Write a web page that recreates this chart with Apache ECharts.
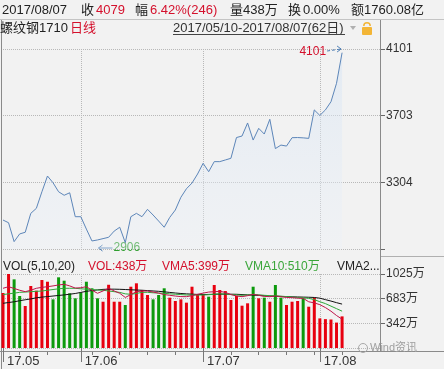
<!DOCTYPE html>
<html><head><meta charset="utf-8">
<script src="https://cdn.jsdelivr.net/npm/echarts@6/dist/echarts.min.js"></script>
<style>html,body{margin:0;padding:0;background:#f2f2f2;}#c{width:444px;height:369px;}</style>
</head><body><div id="c"></div>
<script>
// ---- data ----
const dates = [
 '2017-05-10','2017-05-11','2017-05-12','2017-05-15','2017-05-16','2017-05-17','2017-05-18','2017-05-19','2017-05-22','2017-05-23',
 '2017-05-24','2017-05-25','2017-05-26','2017-05-31','2017-06-01','2017-06-02','2017-06-05','2017-06-06','2017-06-07','2017-06-08',
 '2017-06-09','2017-06-12','2017-06-13','2017-06-14','2017-06-15','2017-06-16','2017-06-19','2017-06-20','2017-06-21','2017-06-22',
 '2017-06-23','2017-06-26','2017-06-27','2017-06-28','2017-06-29','2017-06-30','2017-07-03','2017-07-04','2017-07-05','2017-07-06',
 '2017-07-07','2017-07-10','2017-07-11','2017-07-12','2017-07-13','2017-07-14','2017-07-17','2017-07-18','2017-07-19','2017-07-20',
 '2017-07-21','2017-07-24','2017-07-25','2017-07-26','2017-07-27','2017-07-28','2017-07-31','2017-08-01','2017-08-02','2017-08-03',
 '2017-08-04','2017-08-07'];
const closePrices = [
 3079,3063,2950,2996,3006,3119,3149,3248,3342,3302,
 3248,3227,3242,3099,3099,3025,2954,2960,2968,2976,
 3013,3036,2944,3099,3119,3099,3143,3109,3073,3036,
 3095,3139,3215,3266,3300,3354,3418,3368,3428,3428,
 3438,3448,3572,3581,3659,3557,3627,3593,3681,3506,
 3527,3521,3571,3572,3570,3567,3737,3704,3737,3786,
 3896,4079];
const volumes = [
 762,1025,951,720,582,859,794,942,918,674,
 979,932,758,688,766,918,827,688,641,876,
 641,641,596,849,896,803,734,674,734,827,
 697,651,674,628,849,744,744,711,873,803,
 789,665,724,586,619,849,688,697,641,873,
 697,596,641,651,688,572,697,410,400,395,
 352,438];
const volUpDown = [
 'r','r','g','g','r','r','r','r','r','g',
 'g','g','g','g','g','g','g','g','r','r',
 'r','r','g','r','r','r','r','g','g','g',
 'r','r','r','r','r','r','r','g','r','r',
 'r','r','r','r','r','g','r','g','r','g',
 'g','r','r','r','g','r','r','r','r','r',
 'r','r'];
const vma5 = [
 827,849,825,800,780,800,827,840,849,860,
 873,882,860,830,835,849,800,758,790,827,
 790,758,700,740,780,790,789,775,760,740,
 730,720,712,711,725,744,760,775,780,785,
 770,740,720,711,725,744,730,715,711,720,
 710,700,697,690,688,640,625,600,560,510,
 450,399];
const vma10 = [
 740,750,760,771,775,780,785,789,800,810,
 820,827,827,827,820,815,810,803,800,790,
 780,770,750,744,755,771,771,765,760,758,
 750,745,740,734,734,734,734,738,745,750,
 748,740,735,730,735,740,738,730,725,722,
 718,712,705,700,695,688,670,641,615,580,
 545,510];
const vma20 = [
 619,630,640,655,668,680,695,705,712,720,
 728,735,745,755,770,785,795,805,812,815,
 815,813,810,806,803,800,795,790,785,778,
 770,762,755,750,746,742,740,742,744,746,
 746,745,744,740,736,732,728,724,720,717,
 714,711,709,707,705,703,700,690,670,650,
 628,608];
const priceTicks = [2906, 3304, 3703, 4101];
const volTickMax = 1025;
const priceHigh = 4101, priceHighIdx = 61;
const priceLow = 2906, priceLowIdx = 17;
const padCount = 7;

// ---- build ----
const cats = dates.concat(new Array(padCount).fill(''));
function isMonthStart(i) {
  if (i >= dates.length) return false;
  if (i === 0) return true;
  return dates[i].slice(5, 7) !== dates[i - 1].slice(5, 7);
}
function isMonday(i) {
  if (i >= dates.length) return false;
  return new Date(dates[i] + 'T00:00:00Z').getUTCDay() === 1;
}
const dotted = {type: 'dotted', color: '#b8b8b8', width: 1};
const FONT = '"Liberation Sans", Arial, "Noto Sans CJK SC", sans-serif';
const RED = '#d4102c', GREEN = '#2f9e2f';

const chart = echarts.init(document.getElementById('c'));
const option = {
  backgroundColor: '#f2f2f2',
  animation: false,
  textStyle: {fontFamily: FONT},
  grid: [
    {left: 3, top: 49, width: 378, height: 200},
    {left: 3, top: 274, width: 378, height: 74}
  ],
  xAxis: [
    {type: 'category', gridIndex: 0, data: cats, boundaryGap: false, position: 'bottom',
     axisLine: {show: false}, axisTick: {show: false}, axisLabel: {show: false},
     splitLine: {show: true, interval: (i) => isMonthStart(i) && i > 0, lineStyle: dotted}},
    {type: 'category', gridIndex: 1, data: cats, boundaryGap: false, position: 'bottom', offset: 4,
     axisLine: {show: false},
     axisTick: {show: true, interval: (i) => isMonthStart(i), length: 14, lineStyle: {color: '#777'}},
     axisLabel: {show: true, interval: (i) => isMonthStart(i), align: 'left', padding: [0, 0, 0, 4], margin: 3,
       fontSize: 13, color: '#333', fontFamily: FONT,
       formatter: (v) => v ? v.slice(2, 4) + '.' + v.slice(5, 7) : ''},
     splitLine: {show: true, interval: (i) => isMonthStart(i) && i > 0, lineStyle: dotted}},
    {type: 'category', gridIndex: 1, data: cats, boundaryGap: false, position: 'bottom', offset: 4,
     axisLine: {show: false},
     axisTick: {show: true, interval: (i) => isMonday(i), length: 3, lineStyle: {color: '#777'}},
     axisLabel: {show: false}, splitLine: {show: false}}
  ],
  yAxis: [
    {type: 'value', gridIndex: 0, position: 'right', min: priceTicks[0], max: priceTicks[3],
     axisLine: {show: false},
     axisTick: {show: true, length: 4, customValues: priceTicks, lineStyle: {color: '#666'}},
     axisLabel: {customValues: priceTicks.slice(1), fontSize: 12, color: '#333', margin: 5, fontFamily: FONT,
       formatter: (v) => String(Math.round(v))},
     splitLine: {show: true, lineStyle: dotted}},
    {type: 'value', gridIndex: 1, position: 'right', min: 0, max: volTickMax, interval: volTickMax / 3,
     axisLine: {show: false},
     axisTick: {show: true, length: 4, lineStyle: {color: '#666'}},
     axisLabel: {showMinLabel: false, fontSize: 12, color: '#333', margin: 5, fontFamily: FONT,
       formatter: (v) => Math.round(v) + '万'},
     splitLine: {show: true, lineStyle: dotted}}
  ],
  series: [
    {type: 'line', xAxisIndex: 0, yAxisIndex: 0, data: closePrices, symbol: 'none',
     lineStyle: {color: '#5d86b9', width: 1},
     areaStyle: {origin: 'start', color: new echarts.graphic.LinearGradient(0, 0, 0, 1, [
       {offset: 0, color: 'rgba(214,228,244,0.75)'}, {offset: 1, color: 'rgba(236,241,248,0.5)'}])}},
    {type: 'bar', xAxisIndex: 1, yAxisIndex: 1, barWidth: 3,
     data: volumes.map((v, i) => ({value: v, itemStyle: {color: volUpDown[i] === 'r' ? '#e8000f' : '#0c9a0c'}}))},
    {type: 'line', xAxisIndex: 1, yAxisIndex: 1, data: vma20, symbol: 'none', z: 3, lineStyle: {color: '#111', width: 1}},
    {type: 'line', xAxisIndex: 1, yAxisIndex: 1, data: vma10, symbol: 'none', z: 3, lineStyle: {color: '#2fa83a', width: 1}},
    {type: 'line', xAxisIndex: 1, yAxisIndex: 1, data: vma5, symbol: 'none', z: 3, lineStyle: {color: '#c0144a', width: 1}}
  ]
};
chart.setOption(option);

// ---- decorations & annotations ----
const hi = chart.convertToPixel({xAxisIndex: 0, yAxisIndex: 0}, [priceHighIdx, priceHigh]);
const lo = chart.convertToPixel({xAxisIndex: 0, yAxisIndex: 0}, [priceLowIdx, priceLow]);
function txt(x, y, s, color, size, align) {
  return {type: 'text', x: x, y: y, style: {text: s, fill: color, font: size + 'px ' + FONT, textAlign: align || 'left', textVerticalAlign: 'middle'}};
}
function ln(x1, y1, x2, y2, color, dash) {
  return {type: 'line', shape: {x1: x1, y1: y1, x2: x2, y2: y2}, style: {stroke: color, lineWidth: 1, lineDash: dash || null}};
}
const g = [
  ln(0, 19.5, 444, 19.5, '#c4c4c4'),
  ln(1.5, 20, 1.5, 369, '#8a8a8a'),
  ln(380.5, 20, 380.5, 352, '#8a8a8a'),
  ln(0, 351.5, 444, 351.5, '#8a8a8a'),
  ln(381, 256.5, 444, 256.5, '#b0b0b0'),
  // header row
  txt(2, 10, '2017/08/07', '#222', 13), txt(81, 10, '收', '#222', 13), txt(96, 10, '4079', RED, 13),
  txt(135, 10, '幅', '#222', 13), txt(150, 10, '6.42%(246)', RED, 13),
  txt(230, 10, '量', '#222', 13), txt(243, 10, '438万', '#222', 13),
  txt(288, 10, '换', '#222', 13), txt(303, 10, '0.00%', '#222', 13),
  txt(351, 10, '额', '#222', 13), txt(364, 10, '1760.08亿', '#222', 13),
  // second row
  txt(0, 28, '螺纹钢1710', '#222', 13), txt(70, 28, '日线', RED, 13),
  txt(173, 28, '2017/05/10-2017/08/07(62日)', '#333', 13),
  ln(173, 34.5, 345, 34.5, '#444'),
  {type: 'polygon', shape: {points: [[350, 26], [356, 26], [353, 30]]}, style: {fill: '#b0b0b0'}},
  {type: 'rect', shape: {x: 362, y: 27, width: 10, height: 8, r: 1}, style: {fill: '#f3b535'}},
  {type: 'arc', shape: {cx: 367, cy: 26, r: 3.2, startAngle: Math.PI, endAngle: 2 * Math.PI}, style: {stroke: '#f3b535', lineWidth: 1.5, fill: null}},
  // volume legend
  txt(3, 267, 'VOL(5,10,20)', '#222', 12), txt(88, 267, 'VOL:438万', RED, 12),
  txt(162, 267, 'VMA5:399万', RED, 12), txt(245, 267, 'VMA10:510万', '#3aa63a', 12),
  txt(337, 267, 'VMA2...', '#222', 12),
  // watermark
  {type: 'circle', shape: {cx: 363, cy: 348, r: 4.5}, style: {stroke: '#a8a8a8', fill: null, lineWidth: 1}},
  txt(370, 348, 'Wind资讯', '#a0a0a0', 11),
  // high annotation
  ln(hi[0] - 15, hi[1] + 2, hi[0] - 1, hi[1], '#4f7fb5', [3, 2]),
  ln(hi[0] - 1, hi[1], hi[0] - 5, hi[1] - 3, '#4f7fb5'),
  ln(hi[0] - 1, hi[1], hi[0] - 5, hi[1] + 3, '#4f7fb5'),
  txt(hi[0] - 16, hi[1] + 3, String(priceHigh), RED, 12, 'right'),
  // low annotation
  ln(lo[0] + 1, lo[1] - 1, lo[0] + 15, lo[1] - 1, '#4f7fb5'),
  ln(lo[0] + 1, lo[1] - 1, lo[0] + 5, lo[1] - 4, '#4f7fb5'),
  ln(lo[0] + 1, lo[1] - 1, lo[0] + 5, lo[1] + 2, '#4f7fb5'),
  txt(lo[0] + 16, lo[1] - 1, String(priceLow), GREEN, 12)
];
chart.setOption({graphic: {elements: g}});
</script>
</body></html>
